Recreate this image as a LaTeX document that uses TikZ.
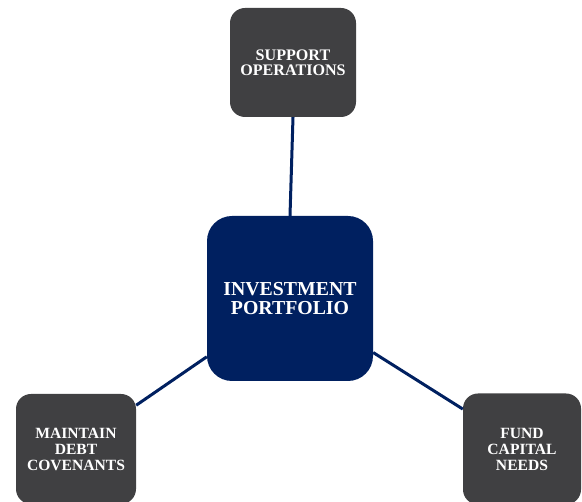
\documentclass[tikz,border=0pt]{standalone}
\usepackage{fontspec}
\setmainfont{Liberation Serif}
\definecolor{navy}{RGB}{0,32,96}
\definecolor{slate}{RGB}{64,64,66}
\begin{document}
\begin{tikzpicture}[x=1pt,y=-1pt,
  goalbox/.style={fill=slate, draw=none, rounded corners=15pt, inner sep=0pt,
    text=white, align=center, font=\bfseries\fontsize{15.6}{16}\selectfont},
  hubbox/.style={fill=navy, draw=none, rounded corners=25pt, inner sep=0pt,
    text=white, align=center, font=\bfseries\fontsize{19.8}{19.3}\selectfont,
    minimum width=166pt, minimum height=165pt},
  link/.style={draw=navy, line width=3pt}]
\useasboundingbox (0,0) rectangle (582,502);

% central hub
\node[hubbox] (c) at (290,298.5) {INVESTMENT\\PORTFOLIO};

% surrounding goals
\node[goalbox, minimum width=126pt, minimum height=109pt,
      font=\bfseries\fontsize{16.1}{15.3}\selectfont] (t) at (293,62.5) {SUPPORT\\OPERATIONS};
\node[goalbox, minimum width=120pt, minimum height=110pt] (l) at (76,449) {MAINTAIN\\DEBT\\COVENANTS};
\node[goalbox, minimum width=118pt, minimum height=111pt] (r) at (522,449) {FUND\\CAPITAL\\NEEDS};

% connectors
\draw[link] (t.south) -- (c.north);
\draw[link] (c.215) -- (l.36);
\draw[link] (c.-33) -- (r.146);
\end{tikzpicture}
\end{document}
